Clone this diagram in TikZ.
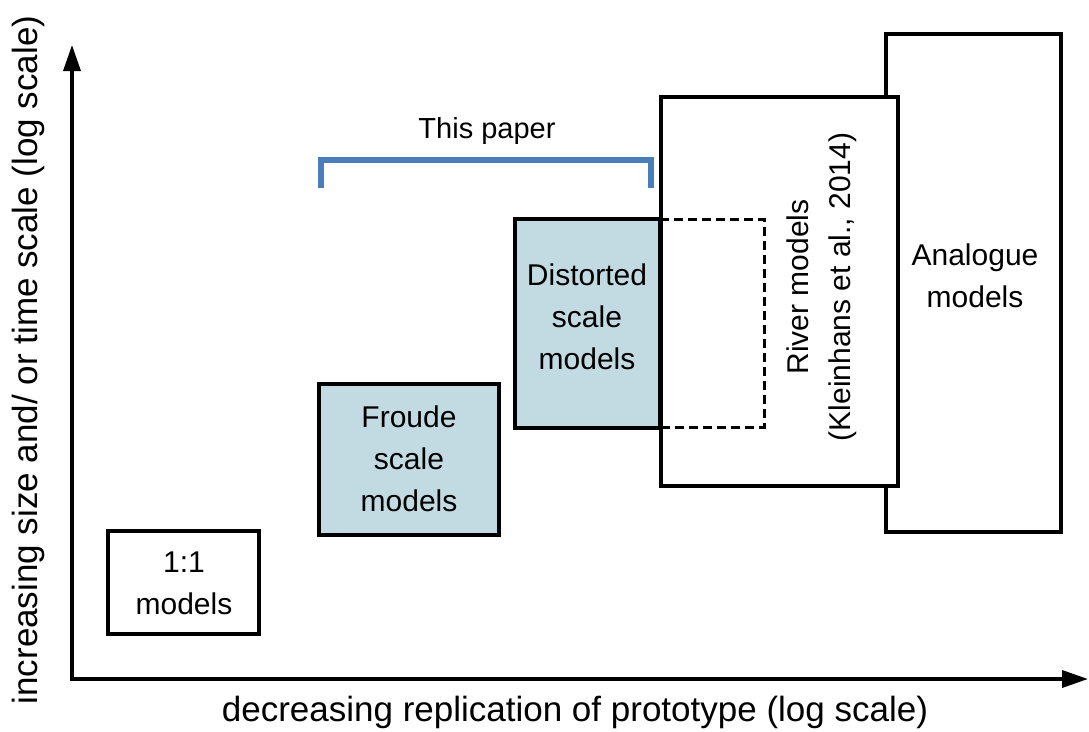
\documentclass[tikz,border=0pt]{standalone}
\usepackage{fontspec}
\setmainfont{Liberation Sans}
\usetikzlibrary{arrows.meta}
\definecolor{boxfill}{HTML}{C2DBE2}
\definecolor{bracketblue}{HTML}{4A7EBB}
\begin{document}
\begin{tikzpicture}[x=1pt,y=-1pt,
  box/.style={draw=black, line width=3.5pt, anchor=north west, inner sep=0pt, outer sep=0pt},
  filledbox/.style={box, fill=boxfill},
  dashbox/.style={draw=black, line width=3pt, dash pattern=on 9pt off 5pt, anchor=north west, inner sep=0pt, outer sep=0pt},
  lbl/.style={font=\fontsize{30}{42}\selectfont, align=center, inner sep=0pt},
  axislbl/.style={font=\fontsize{35}{40}\selectfont, inner sep=0pt},
  axisline/.style={line width=3.5pt, {Triangle[length=26pt,width=17pt]}-{Triangle[length=26pt,width=17pt]}},
  bracketline/.style={draw=bracketblue, line width=6pt}]
\useasboundingbox (0,0) rectangle (1089,731);

% axes
\coordinate (origin) at (72,679);
\coordinate (ytip) at (72,45);
\coordinate (xtip) at (1088,679);
\draw[axisline] (ytip) -- (origin) -- (xtip);

% boxes
\node[box, fill=white, minimum width=175pt, minimum height=498pt] (analogue) at (886,34) {};
\node[box, fill=white, minimum width=237pt, minimum height=389pt] (river) at (661,97) {};
\node[box, minimum width=151pt, minimum height=103pt] (one) at (108,531) {};
\node[filledbox, minimum width=180pt, minimum height=151pt] (froude) at (319,384) {};
\node[filledbox, minimum width=145pt, minimum height=209pt] (distorted) at (515,219) {};
\node[dashbox, minimum width=103pt, minimum height=208pt] (dashed) at (661,219) {};
\draw[line width=3.5pt] (river.north west) -- (river.south west);

% labels
\node[lbl] (onelbl) at (184,583) {1:1\\models};
\node[lbl] (froudelbl) at (409,459) {Froude\\scale\\models};
\node[lbl] (distortedlbl) at (587,317) {Distorted\\scale\\models};
\node[lbl, rotate=90] (riverlbl) at (822,287) {River models\\(Kleinhans et al., 2014)};
\node[lbl] (analoguelbl) at (975,276) {Analogue\\models};

% bracket
\coordinate (bl) at (321,188);
\coordinate (br) at (651,188);
\draw[bracketline] (bl) -- (321,160) -- (651,160) -- (br);
\node[font=\fontsize{29}{34}\selectfont, inner sep=0pt] (paper) at (487,131) {This paper};

% axis labels
\node[axislbl] (xlabel) at (575,712) {decreasing replication of prototype (log scale)};
\node[axislbl, rotate=90] (ylabel) at (28,360) {increasing size and/ or time scale (log scale)};
\end{tikzpicture}
\end{document}
